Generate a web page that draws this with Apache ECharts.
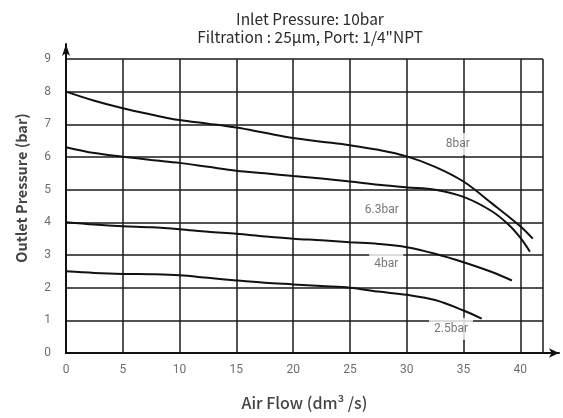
<!DOCTYPE html>
<html>
<head>
<meta charset="utf-8">
<script src="https://cdn.jsdelivr.net/npm/echarts@6/dist/echarts.min.js"></script>
<style>html,body{margin:0;padding:0;background:#fff}#c{width:563px;height:418px}</style>
</head>
<body>
<div id="c"></div>
<script>
// Air flow (dm³/s) sample points and outlet pressure (bar) per set pressure
const flow8 = [0, 2.5, 5, 7.5, 10, 12.5, 15, 17.5, 20, 22.5, 25, 27.5, 30, 32.5, 35, 37.5, 40, 41.1];
const p8 = [8.0, 7.72, 7.49, 7.3, 7.13, 7.02, 6.9, 6.74, 6.58, 6.47, 6.36, 6.22, 6.02, 5.7, 5.25, 4.58, 3.88, 3.5];

const flow63 = [0, 2.5, 5, 7.5, 10, 12.5, 15, 17.5, 20, 22.5, 25, 27.5, 30, 32.5, 35, 37.5, 39, 40, 40.85];
const p63 = [6.3, 6.12, 6.01, 5.91, 5.82, 5.7, 5.58, 5.5, 5.42, 5.34, 5.25, 5.15, 5.07, 5.0, 4.78, 4.34, 3.92, 3.53, 3.1];

const flow4 = [0, 2.5, 5, 7.5, 10, 12.5, 15, 17.5, 20, 22.5, 25, 27.5, 30, 32.5, 35, 37.5, 39.26];
const p4 = [4.0, 3.93, 3.88, 3.85, 3.79, 3.71, 3.65, 3.57, 3.5, 3.45, 3.39, 3.34, 3.24, 3.04, 2.78, 2.48, 2.22];

const flow25 = [0, 2.5, 5, 7.5, 10, 12.5, 15, 17.5, 20, 22.5, 25, 27.5, 30, 32.5, 35, 36.6];
const p25 = [2.5, 2.45, 2.42, 2.41, 2.38, 2.3, 2.22, 2.15, 2.1, 2.05, 2.0, 1.88, 1.78, 1.62, 1.3, 1.05];

// curve labels
const labelText = ['8bar', '6.3bar', '4bar', '2.5bar'];
const labelX = [34.5, 27.8, 28.2, 33.9];
const labelY = [6.4, 4.37, 2.72, 0.74];

const titleText = 'Inlet Pressure: 10bar\nFiltration : 25μm, Port: 1/4"NPT';
const xName = 'Air Flow (dm³ /s)';
const yName = 'Outlet Pressure (bar)';

const zip = (xs, ys) => xs.map((x, i) => [x, ys[i]]);
const curve = (xs, ys) => ({
  type: 'line', xAxisIndex: 0, yAxisIndex: 0, data: zip(xs, ys), smooth: 0.35,
  showSymbol: false, symbol: 'none', silent: true, z: 5,
  lineStyle: { color: '#111', width: 2 }
});

const chart = echarts.init(document.getElementById('c'), null, { renderer: 'canvas' });
const gridLine = { show: true, lineStyle: { color: '#1a1a1a', width: 1.5 } };
chart.setOption({
  animation: false,
  backgroundColor: '#fff',
  title: {
    text: titleText, left: 305, top: 5, textAlign: 'center',
    textStyle: { fontFamily: 'Noto Sans CJK SC', fontSize: 15.5, fontWeight: 'normal', color: '#2a2a2a', lineHeight: 18 }
  },
  grid: [
    { left: 66, right: 20, top: 59, bottom: 65 },
    { left: 66, right: 4, top: 44, bottom: 65 }
  ],
  xAxis: [
    {
      type: 'value', gridIndex: 0, min: 0, max: 42, interval: 5,
      name: xName, nameLocation: 'middle', nameGap: 42,
      nameTextStyle: { fontFamily: 'Noto Sans CJK SC', fontSize: 16, fontWeight: 500, color: '#444' },
      axisLine: { show: true, lineStyle: { color: '#111', width: 2 } },
      axisTick: { show: false },
      axisLabel: { margin: 11, color: '#6e6e6e', fontSize: 12, fontFamily: 'Roboto', showMaxLabel: false },
      splitLine: gridLine
    },
    {
      type: 'value', gridIndex: 1, min: 0, max: 1,
      axisLine: { show: true, symbol: ['none', 'arrow'], symbolSize: [7, 10], lineStyle: { color: '#111', width: 2 } },
      axisTick: { show: false }, axisLabel: { show: false }, splitLine: { show: false }
    }
  ],
  yAxis: [
    {
      type: 'value', gridIndex: 0, min: 0, max: 9, interval: 1,
      name: yName, nameLocation: 'middle', nameGap: 37, nameRotate: 90,
      nameTextStyle: { fontFamily: 'Noto Sans CJK SC', fontSize: 14.5, fontWeight: 'bold', color: '#444', padding: [0, 0, 0, 36] },
      axisLine: { show: true, lineStyle: { color: '#111', width: 2 } },
      axisTick: { show: false },
      axisLabel: { margin: 15, color: '#6e6e6e', fontSize: 12, fontFamily: 'Roboto' },
      splitLine: gridLine
    },
    {
      type: 'value', gridIndex: 1, min: 0, max: 1,
      axisLine: { show: true, symbol: ['none', 'arrow'], symbolSize: [6, 12], lineStyle: { color: '#111', width: 2 } },
      axisTick: { show: false }, axisLabel: { show: false }, splitLine: { show: false }
    }
  ],
  series: [
    curve(flow8, p8),
    curve(flow63, p63),
    curve(flow4, p4),
    curve(flow25, p25),
    {
      type: 'scatter', xAxisIndex: 0, yAxisIndex: 0, symbolSize: 0, silent: true, z: 10,
      data: labelText.map((t, i) => ({ name: t, value: [labelX[i], labelY[i]] })),
      label: {
        show: true, position: 'inside', formatter: p => p.name,
        color: '#555', fontSize: 12, fontFamily: 'Roboto',
        backgroundColor: '#fff', padding: [5, 5]
      }
    }
  ]
});
</script>
</body>
</html>
